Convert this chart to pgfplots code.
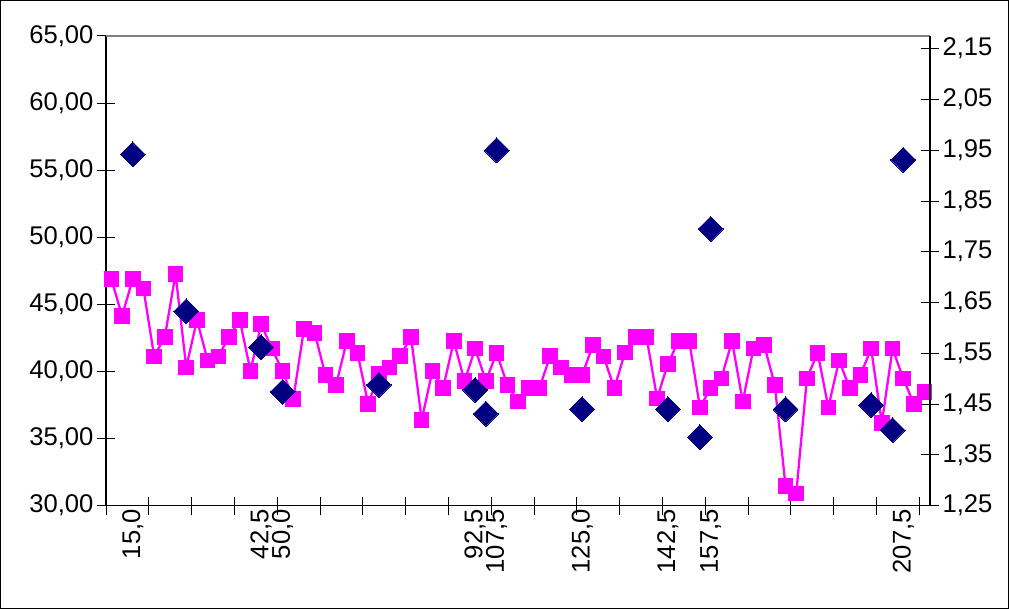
\documentclass[border=0pt]{standalone}
\usepackage{fontspec}
\setmainfont{Liberation Sans}
\usepackage{pgfplots}
\pgfplotsset{compat=1.18}
\usepackage{pgfplotstable}

\definecolor{mag}{RGB}{255,0,255}
\definecolor{navyb}{RGB}{0,0,128}

\pgfplotstableread{
i v
0 46.89
1 44.14
2 46.89
3 46.17
4 41.13
5 42.59
6 47.27
7 40.31
8 43.84
9 40.83
10 41.13
11 42.59
12 43.84
13 40.04
14 43.52
15 41.70
16 40.04
17 37.95
18 43.17
19 42.89
20 39.74
21 38.99
22 42.27
23 41.40
24 37.56
25 39.81
26 40.31
27 41.15
28 42.59
29 36.39
30 40.04
31 38.75
32 42.27
33 39.29
34 41.70
35 39.29
36 41.40
37 38.99
38 37.75
39 38.75
40 38.75
41 41.15
42 40.31
43 39.74
44 39.74
45 41.97
46 41.13
47 38.75
48 41.43
49 42.59
50 42.59
51 38.00
52 40.56
53 42.27
54 42.27
55 37.33
56 38.75
57 39.49
58 42.27
59 37.75
60 41.70
61 41.97
62 38.99
63 31.47
64 30.92
65 39.49
66 41.40
67 37.33
68 40.83
69 38.75
70 39.74
71 41.70
72 36.18
73 41.70
74 39.49
75 37.56
76 38.49
}\magdata

\pgfplotstableread{
i v
2 1.942
7 1.633
14 1.562
16 1.474
25 1.488
34 1.478
35 1.431
36 1.950
44 1.440
52 1.440
55 1.385
56 1.795
63 1.440
71 1.448
73 1.399
74 1.931
}\diadata

\begin{document}
\begin{tikzpicture}[x=1pt,y=1pt]
\path[use as bounding box] (0,0) rectangle (1009,609);
\draw[black, line width=1pt] (0.5,0.5) rectangle (1008.5,608.5);
\begin{axis}[
  at={(106pt,103.3pt)}, anchor=south west,
  scale only axis, width=824pt, height=469.7pt,
  xmin=-0.5, xmax=76.5, ymin=30, ymax=65,
  axis x line*=bottom, axis y line*=left,
  ytick={30,35,40,45,50,55,60,65},
  xtick={-0.5,3.5,...,75.5}, xticklabels={},
  extra x ticks={2,14,16,34,36,44,52,56,74},
  extra x tick labels={{15,0},{42,5},{50,0},{92,5},{107,5},{125,0},{142,5},{157,5},{207,5}},
  extra x tick style={major tick length=0pt},
  xticklabel style={rotate=90, anchor=east},
  tick align=center, major tick length=18pt,
  tick style={black, line width=1pt},
  axis line style={black, line width=1.3pt, -},
  yticklabel style={/pgf/number format/.cd, fixed, fixed zerofill, precision=2, use comma},
  ticklabel style={font=\fontsize{25.6}{30}\selectfont},
  /pgf/number format/assume math mode=true,
  clip=false,
]
\addplot[mag, line width=2.3pt, mark=square*, mark size=7.3pt,
  mark options={solid, fill=mag, draw=mag, line width=0pt}] table[x=i,y=v]{\magdata};
\draw[gray, line width=2pt] (rel axis cs:0,1) -- (rel axis cs:1,1);
\end{axis}
\begin{axis}[
  at={(106pt,103.3pt)}, anchor=south west,
  scale only axis, width=824pt, height=469.7pt,
  xmin=-0.5, xmax=76.5, ymin=1.25, ymax=2.175,
  axis y line*=right, axis x line=none,
  ytick={1.25,1.35,1.45,1.55,1.65,1.75,1.85,1.95,2.05,2.15},
  tick align=center, major tick length=18pt,
  tick style={black, line width=1pt},
  axis line style={black, line width=1.3pt, -},
  yticklabel style={/pgf/number format/.cd, fixed, fixed zerofill, precision=2, use comma},
  ticklabel style={font=\fontsize{25.6}{30}\selectfont},
  /pgf/number format/assume math mode=true,
  clip=false,
]
\addplot[only marks, mark=square*, mark size=8.8pt,
  mark options={rotate=45, fill=navyb, draw=navyb, line width=0pt}] table[x=i,y=v]{\diadata};
\end{axis}
\end{tikzpicture}
\end{document}
